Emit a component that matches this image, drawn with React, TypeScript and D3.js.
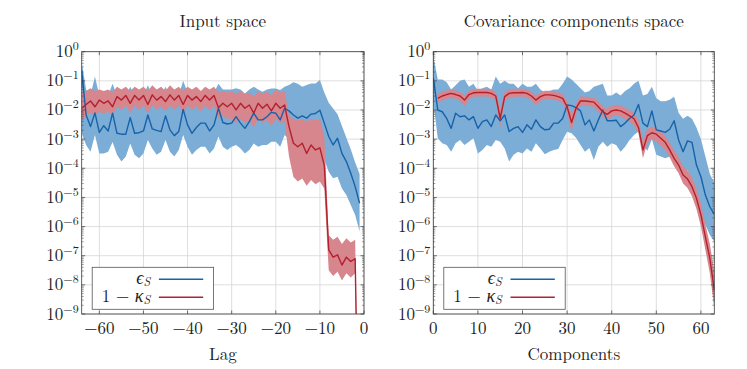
import * as React from 'react';
import * as d3 from 'd3';

// values are stored as log10 of the plotted quantity
const lags = d3.range(-64, 0);
const components = d3.range(0, 64);
const kappaComponents = d3.range(1, 64);

const inputEps = [
  -0.65, -2.17, -2.57, -2.1, -2.77, -2.54, -2.72, -2.11,
  -2.8, -2.83, -2.83, -2.26, -2.8, -2.78, -2.72, -2.17,
  -2.65, -2.7, -2.74, -2.2, -2.68, -2.88, -2.74, -1.98,
  -2.51, -2.8, -2.6, -2.45, -2.45, -2.72, -2.51, -1.94,
  -2.43, -2.48, -2.45, -2.23, -2.45, -2.63, -2.4, -2.11,
  -2.34, -2.34, -2.23, -2.08, -2.11, -2.34, -1.94, -2.03,
  -2.17, -2.28, -2.2, -2.28, -2.14, -2.12, -2.01, -2.45,
  -2.91, -3.2, -2.97, -3.49, -3.77, -4.17, -4.63, -5.2,
];
const inputEpsHi = [
  -0.35, -1.3, -1.5, -0.85, -1.5, -1.5, -1.5, -1.1,
  -1.5, -1.5, -1.5, -1.2, -1.5, -1.5, -1.5, -1.15,
  -1.5, -1.5, -1.5, -1.2, -1.5, -1.5, -1.5, -1.0,
  -1.4, -1.5, -1.4, -1.35, -1.35, -1.45, -1.4, -1.1,
  -1.3, -1.3, -1.3, -1.25, -1.3, -1.43, -1.3, -1.2,
  -1.3, -1.37, -1.3, -1.26, -1.26, -1.31, -1.2, -1.14,
  -1.05, -1.1, -1.2, -1.14, -1.09, -1.09, -0.97, -1.4,
  -1.75, -1.95, -2.15, -2.55, -2.95, -3.35, -3.8, -4.2,
];
const inputEpsLo = [
  -2.8, -3.2, -3.43, -2.86, -3.49, -3.49, -3.43, -3.1,
  -3.54, -3.77, -3.6, -3.15, -3.54, -3.66, -3.49, -3.03,
  -3.32, -3.54, -3.43, -3.03, -3.43, -3.6, -3.37, -2.86,
  -3.26, -3.54, -3.37, -3.26, -3.26, -3.49, -3.32, -2.91,
  -3.26, -3.37, -3.26, -3.2, -3.32, -3.49, -3.37, -3.15,
  -3.26, -3.2, -3.2, -3.09, -3.09, -3.26, -2.86, -3.0,
  -3.1, -3.2, -3.1, -3.2, -3.1, -3.1, -3.0, -3.7,
  -4.12, -4.34, -4.29, -4.69, -4.92, -5.26, -5.6, -6.17,
];

const inputKappa = [
  -1.94, -1.81, -1.69, -1.89, -1.66, -1.77, -1.69, -1.89,
  -1.54, -1.66, -1.5, -1.77, -1.5, -1.66, -1.5, -1.81,
  -1.48, -1.66, -1.54, -1.71, -1.48, -1.66, -1.5, -1.81,
  -1.5, -1.66, -1.54, -1.71, -1.5, -1.66, -1.5, -1.92,
  -1.77, -1.89, -1.77, -2.0, -1.77, -1.94, -1.83, -2.11,
  -1.77, -1.94, -1.8, -2.03, -1.77, -1.94, -1.83, -2.57,
  -3.14, -3.26, -3.14, -3.49, -3.2, -3.37, -3.3, -3.9,
  -6.8, -7.05, -6.97, -7.32, -7.05, -7.2, -7.1, -16,
];
const inputKappaHi = [
  -1.45, -1.35, -1.25, -1.35, -1.3, -1.35, -1.3, -1.4,
  -1.2, -1.3, -1.2, -1.35, -1.2, -1.3, -1.2, -1.35,
  -1.15, -1.3, -1.2, -1.35, -1.15, -1.3, -1.2, -1.35,
  -1.2, -1.3, -1.2, -1.35, -1.2, -1.3, -1.2, -1.4,
  -1.35, -1.4, -1.35, -1.45, -1.35, -1.45, -1.4, -1.55,
  -1.35, -1.45, -1.35, -1.5, -1.3, -1.4, -1.35, -2.2,
  -2.3, -2.35, -2.3, -2.4, -2.3, -2.35, -2.3, -2.9,
  -6.3, -6.45, -6.35, -6.6, -6.4, -6.55, -6.45, -16,
];
const inputKappaLo = [
  -2.35, -2.2, -2.1, -2.2, -2.05, -2.15, -2.05, -2.2,
  -1.89, -2.0, -1.85, -2.1, -1.85, -2.0, -1.85, -2.1,
  -1.85, -2.0, -1.87, -2.05, -1.85, -2.0, -1.85, -2.1,
  -1.85, -2.0, -1.87, -2.05, -1.85, -2.0, -1.85, -2.3,
  -2.2, -2.3, -2.3, -2.45, -2.3, -2.45, -2.35, -2.6,
  -2.3, -2.45, -2.35, -2.55, -2.3, -2.45, -2.4, -3.6,
  -4.3, -4.45, -4.35, -4.6, -4.4, -4.55, -4.45, -4.7,
  -7.5, -7.7, -7.55, -7.85, -7.6, -7.75, -7.6, -16,
];

const covEps = [
  -0.91, -2.0, -2.06, -2.29, -2.63, -2.11, -2.23, -2.2,
  -2.34, -2.23, -2.63, -2.4, -2.34, -2.57, -2.17, -2.37,
  -2.17, -2.74, -2.63, -2.57, -2.77, -2.51, -2.66, -2.34,
  -2.57, -2.68, -2.66, -2.45, -2.45, -2.29, -1.83, -1.85,
  -1.92, -2.03, -2.51, -2.34, -2.72, -2.34, -2.0, -2.37,
  -2.37, -2.35, -2.57, -2.45, -2.29, -2.17, -1.81, -2.45,
  -2.57, -2.03, -2.68, -2.72, -2.77, -2.66, -2.37, -3.03,
  -3.43, -3.06, -3.11, -3.89, -4.29, -4.92, -5.32, -5.58,
];
const covEpsHi = [
  -0.15, -0.95, -0.95, -1.05, -1.3, -1.15, -1.0, -0.95,
  -1.2, -1.1, -1.35, -1.25, -1.2, -1.3, -0.85, -1.1,
  -1.0, -1.1, -1.1, -1.25, -1.1, -1.2, -1.2, -1.1,
  -1.3, -1.4, -1.35, -1.3, -1.3, -1.1, -0.85, -0.95,
  -1.1, -1.25, -1.4, -1.35, -1.2, -1.15, -1.1, -1.5,
  -1.5, -1.4, -1.5, -1.35, -1.25, -1.1, -1.0, -1.5,
  -1.45, -1.2, -1.6, -1.7, -1.7, -1.65, -1.55, -2.1,
  -2.3, -2.2, -2.3, -2.6, -3.0, -3.6, -4.2, -4.5,
];
const covEpsLo = [
  -1.7, -2.97, -3.14, -3.2, -3.43, -3.14, -3.03, -3.2,
  -3.09, -2.97, -3.49, -3.37, -3.2, -3.26, -3.03, -3.09,
  -3.32, -3.77, -3.54, -3.43, -3.49, -3.32, -3.43, -3.14,
  -3.32, -3.52, -3.43, -3.37, -3.34, -3.03, -2.75, -2.8,
  -2.95, -3.2, -3.43, -3.3, -3.72, -3.26, -3.09, -3.26,
  -3.14, -3.2, -3.43, -3.26, -3.03, -2.86, -2.74, -3.2,
  -3.4, -3.0, -3.54, -3.6, -3.66, -3.6, -3.66, -3.89,
  -4.34, -4.06, -4.46, -4.92, -5.49, -5.94, -6.29, -6.52,
];

const covKappa = [
  -1.6, -1.52, -1.47, -1.43, -1.47, -1.52, -1.66, -1.47,
  -1.41, -1.4, -1.4, -1.4, -1.43, -1.52, -2.29, -1.54,
  -1.43, -1.41, -1.41, -1.4, -1.43, -1.52, -1.66, -1.54,
  -1.48, -1.48, -1.5, -1.54, -1.6, -1.89, -2.43, -1.94,
  -1.69, -1.69, -1.71, -1.73, -1.89, -2.06, -2.15, -2.03,
  -2.0, -2.03, -2.11, -2.2, -2.3, -2.6, -3.37, -2.88,
  -2.78, -2.83, -2.97, -3.11, -3.37, -3.66, -3.89, -4.23,
  -4.37, -4.63, -5.03, -5.6, -6.35, -7.09, -8.18,
];
const covKappaHi = [
  -1.45, -1.38, -1.33, -1.3, -1.33, -1.38, -1.5, -1.33,
  -1.28, -1.27, -1.27, -1.27, -1.3, -1.38, -1.95, -1.38,
  -1.29, -1.27, -1.27, -1.27, -1.29, -1.38, -1.5, -1.4,
  -1.34, -1.34, -1.36, -1.4, -1.45, -1.7, -2.15, -1.78,
  -1.54, -1.54, -1.56, -1.58, -1.72, -1.88, -1.96, -1.85,
  -1.82, -1.85, -1.92, -2.01, -2.1, -2.35, -3.05, -2.65,
  -2.57, -2.62, -2.75, -2.88, -3.13, -3.4, -3.62, -3.95,
  -4.08, -4.32, -4.7, -5.22, -5.92, -6.6, -7.55,
];
const covKappaLo = [
  -1.75, -1.67, -1.62, -1.58, -1.62, -1.68, -1.88, -1.62,
  -1.55, -1.54, -1.54, -1.54, -1.57, -1.68, -2.6, -1.7,
  -1.57, -1.55, -1.55, -1.54, -1.57, -1.67, -1.84, -1.69,
  -1.62, -1.62, -1.64, -1.69, -1.76, -2.1, -2.75, -2.12,
  -1.85, -1.85, -1.87, -1.9, -2.07, -2.25, -2.35, -2.22,
  -2.19, -2.22, -2.31, -2.4, -2.52, -2.8, -3.66, -3.12,
  -3.0, -3.08, -3.22, -3.36, -3.63, -3.93, -4.17, -4.52,
  -4.68, -4.96, -5.4, -6.0, -6.8, -7.6, -8.8,
];

const inputTicks = [-60, -50, -40, -30, -20, -10, 0];
const compTicks = [0, 10, 20, 30, 40, 50, 60];
const decades = d3.range(0, -10, -1);

const BLUE = '#1762a9';
const BLUE_FILL = '#7badd6';
const RED = '#b3202e';
const RED_FILL = '#d6868c';
const FONT = "'Latin Modern Roman', 'Liberation Serif', 'DejaVu Serif', serif";
const GREEK = "'Liberation Serif', 'DejaVu Serif', serif";
const TOP = 51.7;
const BOTTOM = 314;

function toPoints(xs, mid, hi, lo) {
  return xs.map((x, i) => ({ x, v: 10 ** mid[i], hi: 10 ** hi[i], lo: 10 ** lo[i] }));
}

function Panel(props) {
  const { id, title, xlabel, domain, left, right, ticks, eps, kappa } = props;
  const x = d3.scaleLinear().domain(domain).range([left, right]);
  const y = d3.scaleLog().domain([1e-9, 1]).range([BOTTOM, TOP]);

  const band = d3.area().x(d => x(d.x)).y0(d => y(d.lo)).y1(d => y(d.hi));
  const line = d3.line().x(d => x(d.x)).y(d => y(d.v));

  const minor = [];
  decades.slice(1).forEach(k => {
    for (let m = 2; m <= 9; m++) minor.push(m * 10 ** k);
  });

  const cx = (left + right) / 2;
  const lx = left + 10.5;
  const ly = 267.3;
  const txt = { fontFamily: FONT, fontSize: 17, fill: '#222' };
  const small = { fontSize: 12 };
  const greek = { fontFamily: GREEK, fontStyle: 'italic', fontSize: 18 };
  const sub = { fontStyle: 'italic', fontSize: 12 };

  return (
    <g>
      <defs>
        <clipPath id={id}>
          <rect x={left} y={TOP} width={right - left} height={BOTTOM - TOP} />
        </clipPath>
      </defs>
      {/* grid */}
      {ticks.map(t => (
        <line key={'gx' + t} x1={x(t)} x2={x(t)} y1={TOP} y2={BOTTOM} stroke="#d6d6d6" strokeWidth={0.8} />
      ))}
      {decades.map(k => (
        <line key={'gy' + k} x1={left} x2={right} y1={y(10 ** k)} y2={y(10 ** k)} stroke="#d6d6d6" strokeWidth={0.8} />
      ))}

      <g clipPath={`url(#${id})`}>
        <path d={band(eps)} fill={BLUE_FILL} />
        <path d={band(kappa)} fill={RED_FILL} />
        <path d={line(eps)} fill="none" stroke={BLUE} strokeWidth={1.4} strokeLinejoin="round" />
        <path d={line(kappa)} fill="none" stroke={RED} strokeWidth={1.4} strokeLinejoin="round" />
      </g>

      {/* frame and ticks */}
      <rect x={left} y={TOP} width={right - left} height={BOTTOM - TOP} fill="none" stroke="#3a3a3a" strokeWidth={0.8} />
      {decades.map(k => (
        <g key={'ty' + k}>
          <line x1={left} x2={left + 3.5} y1={y(10 ** k)} y2={y(10 ** k)} stroke="#3a3a3a" strokeWidth={0.7} />
          <line x1={right} x2={right - 3.5} y1={y(10 ** k)} y2={y(10 ** k)} stroke="#3a3a3a" strokeWidth={0.7} />
        </g>
      ))}
      {minor.map(v => (
        <g key={'my' + v}>
          <line x1={left} x2={left + 2} y1={y(v)} y2={y(v)} stroke="#3a3a3a" strokeWidth={0.5} />
          <line x1={right} x2={right - 2} y1={y(v)} y2={y(v)} stroke="#3a3a3a" strokeWidth={0.5} />
        </g>
      ))}
      {ticks.map(t => (
        <g key={'tx' + t}>
          <line x1={x(t)} x2={x(t)} y1={BOTTOM} y2={BOTTOM - 3.5} stroke="#3a3a3a" strokeWidth={0.7} />
          <line x1={x(t)} x2={x(t)} y1={TOP} y2={TOP + 3.5} stroke="#3a3a3a" strokeWidth={0.7} />
        </g>
      ))}

      {/* tick labels */}
      {decades.map(k => (
        <text key={'ly' + k} x={left - 3} y={y(10 ** k) + 5.5} textAnchor="end" style={txt}>
          10
          <tspan style={small} dy={-7}>{k === 0 ? '0' : '\u2212' + -k}</tspan>
        </text>
      ))}
      {ticks.map(t => (
        <text key={'lx' + t} x={x(t)} y={334} textAnchor="middle" style={txt}>
          {t < 0 ? '\u2212' + -t : String(t)}
        </text>
      ))}

      <text x={cx} y={27} textAnchor="middle" style={txt}>{title}</text>
      <text x={cx} y={360} textAnchor="middle" style={txt}>{xlabel}</text>

      {/* legend */}
      <rect x={lx} y={ly} width={121.4} height={42} fill="#fff" stroke="#555" strokeWidth={0.8} />
      <text x={lx + 58} y={ly + 16.5} textAnchor="end" style={txt}>
        <tspan style={greek}>{'\u03f5'}</tspan>
        <tspan style={sub} dy={2.5}>S</tspan>
      </text>
      <line x1={lx + 66.7} x2={lx + 111} y1={ly + 12} y2={ly + 12} stroke={BLUE} strokeWidth={1.4} />
      <text x={lx + 58} y={ly + 34.5} textAnchor="end" style={txt}>
        {'1 \u2212 '}
        <tspan style={greek}>{'\u03ba'}</tspan>
        <tspan style={sub} dy={2.5}>S</tspan>
      </text>
      <line x1={lx + 66.7} x2={lx + 111} y1={ly + 30} y2={ly + 30} stroke={RED} strokeWidth={1.4} />
    </g>
  );
}

export default function App() {
  const inputEpsPts = toPoints(lags, inputEps, inputEpsHi, inputEpsLo);
  const inputKappaPts = toPoints(lags, inputKappa, inputKappaHi, inputKappaLo);
  const covEpsPts = toPoints(components, covEps, covEpsHi, covEpsLo);
  const covKappaPts = toPoints(kappaComponents, covKappa, covKappaHi, covKappaLo);

  return (
    <svg width={747} height={369} style={{ position: 'absolute', left: 0, top: 0, background: '#fff' }}>
      <Panel
        id="clip-input"
        title="Input space"
        xlabel="Lag"
        domain={[-64, 0]}
        left={81.7}
        right={364}
        ticks={inputTicks}
        eps={inputEpsPts}
        kappa={inputKappaPts}
      />
      <Panel
        id="clip-cov"
        title="Covariance components space"
        xlabel="Components"
        domain={[0, 63]}
        left={433.3}
        right={714.3}
        ticks={compTicks}
        eps={covEpsPts}
        kappa={covKappaPts}
      />
    </svg>
  );
}
